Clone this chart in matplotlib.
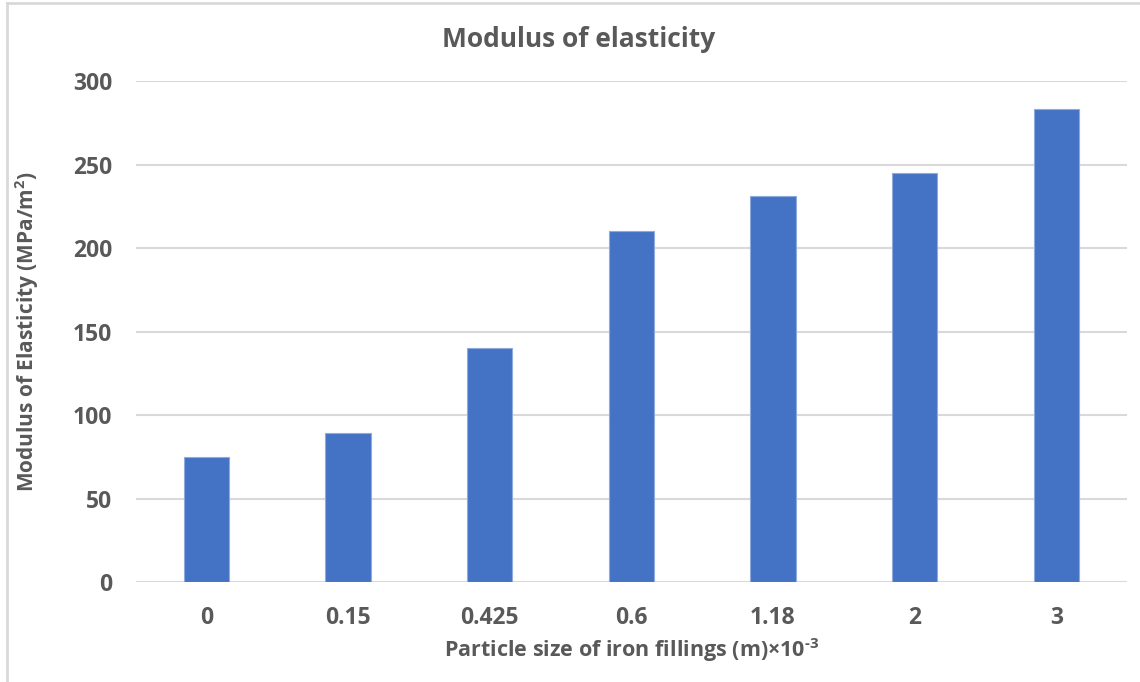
import matplotlib
matplotlib.use("Agg")
import matplotlib.pyplot as plt
from matplotlib.lines import Line2D

# data
sizes = ['0', '0.15', '0.425', '0.6', '1.18', '2', '3']
modulus = [75, 89, 140, 210, 231, 245, 283]

txt = '#595959'
plt.rcParams['font.family'] = ['Open Sans', 'DejaVu Sans']
plt.rcParams['font.weight'] = 'bold'
plt.rcParams['mathtext.fontset'] = 'custom'
plt.rcParams['mathtext.rm'] = 'Open Sans:bold'
plt.rcParams['mathtext.it'] = 'Open Sans:bold'
plt.rcParams['mathtext.bf'] = 'Open Sans:bold'

fig = plt.figure(figsize=(11.4, 6.82), dpi=100)
ax = fig.add_axes([0.119, 0.1466, 0.8696, 0.7346])

x = range(len(sizes))
ax.bar(x, modulus, width=0.32, color='#4472C4', edgecolor='#8faadc', linewidth=0.8, zorder=3)

ax.set_xlim(-0.5, len(sizes) - 0.5)
ax.set_ylim(0, 300)
ax.set_yticks(range(0, 301, 50))
ax.set_xticks(list(x))
ax.set_xticklabels(sizes)
ax.grid(axis='y', color='#d9d9d9', linewidth=1.5, zorder=0)
for s in ax.spines.values():
    s.set_visible(False)
ax.tick_params(length=0, labelsize=16.5, labelcolor=txt, pad=17)
for lab in ax.get_xticklabels() + ax.get_yticklabels():
    lab.set_fontweight('bold')

fig.suptitle('Modulus of elasticity', fontsize=19, color=txt, fontweight='bold', x=0.508, y=0.962)
ax.set_xlabel('Particle size of iron fillings (m)×10$^{\\text{-3}}$', fontsize=15.5, color=txt,
              fontweight='bold', labelpad=5)
ax.set_ylabel('Modulus of Elasticity (MPa/m$^{\\mathrm{2}}$)', fontsize=15, color=txt,
              fontweight='bold')
ax.yaxis.set_label_coords(-0.095, 0.5)

# thin frame at the top and left of the image
fig.add_artist(Line2D([0.0058, 0.0058], [0, 0.995], color='#d9d9d9', linewidth=2))
fig.add_artist(Line2D([0.0058, 1], [0.995, 0.995], color='#d9d9d9', linewidth=2))

plt.savefig('out.png', dpi=100)
